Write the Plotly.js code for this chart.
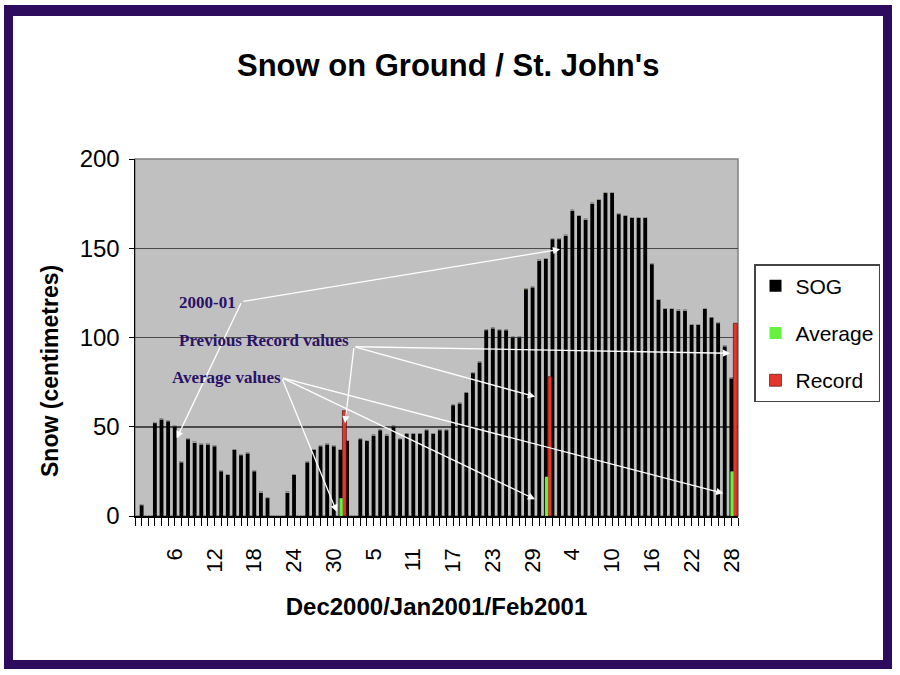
<!DOCTYPE html>
<html>
<head>
<meta charset="utf-8">
<script src="https://cdn.plot.ly/plotly-3.0.1.min.js"></script>
<style>
  html, body { margin: 0; padding: 0; background: #ffffff; }
  #wrap { position: relative; width: 900px; height: 675px; }
  #chart { position: absolute; left: 0; top: 0; width: 900px; height: 675px; }
  #frame { position: absolute; left: 4px; top: 5px; width: 888px; height: 664px;
           box-sizing: border-box; border: 9px solid #2d0c5e; border-top-width: 11px;
           pointer-events: none; }
</style>
</head>
<body>
<div id="wrap">
  <div id="chart"></div>
  <div id="frame"></div>
</div>
<script>
// ---- Data (cm of snow on ground) ----
const months = ['Dec', 'Jan', 'Feb'];
const monthYears = [2000, 2001, 2001];
const monthDays = [31, 31, 28];

const decSOG = [6, 0, 52, 54, 53, 50, 30, 43, 41, 40, 40, 39, 25, 23, 37, 34,
                35, 25, 13, 10, 0, 0, 13, 23, 0, 30, 37, 39, 40, 39, 37];
const janSOG = [42, 0, 43, 42, 45, 48, 45, 50, 43, 46, 46, 46, 48, 46, 48, 48,
                62, 63, 69, 80, 86, 104, 105, 104, 104, 100, 100, 127, 128, 143, 144];
const febSOG = [155, 155, 157, 171, 168, 166, 175, 177, 181, 181, 169, 168, 167, 167,
                167, 141, 121, 116, 116, 115, 115, 107, 107, 116, 111, 108, 95, 77];

const markedDates = ['Dec 31', 'Jan 31', 'Feb 28'];
const averageValues = [10, 22, 25];
const recordValues = [59, 78, 108];

const tickLabels = ['6', '12', '18', '24', '30', '5', '11', '17', '23', '29',
                    '4', '10', '16', '22', '28'];

// ---- Build categories (one per day) ----
const categories = [];
months.forEach((m, mi) => {
  for (let d = 1; d <= monthDays[mi]; d++) categories.push(m + ' ' + d);
});
const sog = decSOG.concat(janSOG, febSOG);
const xIdx = categories.map((c, i) => i + 1);
const markedIdx = markedDates.map(d => categories.indexOf(d) + 1);

const tickVals = [];
const tickText = [];
for (let k = 0; k <= categories.length + 1; k++) {
  tickVals.push(k);
  let t = '';
  if (k >= 1 && k <= categories.length) {
    const dayNum = categories[k - 1].split(' ')[1];
    if (k % 6 === 0 && tickLabels.indexOf(dayNum) >= 0) t = dayNum;
  }
  tickText.push(t);
}

const FONT = '"Liberation Sans", Arial, sans-serif';
const SERIF = '"Liberation Serif", "Times New Roman", serif';

const traces = [
  {
    type: 'bar', name: 'SOG', x: xIdx, y: sog, text: categories,
    marker: { color: '#000000', line: { width: 0 } },
    width: 0.58, offset: -0.29,
    legendrank: 1, legendgroup: 'a', hoverinfo: 'text+y'
  },
  {
    type: 'bar', name: 'Record', x: markedIdx, y: recordValues,
    marker: { color: '#e2372a', line: { width: 0.6, color: '#400000' } },
    width: 0.6, offset: 0.3,
    legendrank: 3, legendgroup: 'c'
  },
  {
    type: 'bar', name: 'Average', x: markedIdx, y: averageValues,
    marker: { color: '#66f040', line: { width: 0 } },
    width: 0.5, offset: -0.15,
    legendrank: 2, legendgroup: 'b'
  }
];

// pixel helpers for annotation placement (plot area 135..738 x, 159..516 y)
const px = v => (v - 135) / 6.626;
const py = v => (516 - v) / 1.785;

function arrow(tx, ty, hx, hy) {
  return {
    x: px(hx), y: py(hy), ax: px(tx), ay: py(ty),
    xref: 'x', yref: 'y', axref: 'x', ayref: 'y',
    text: '', showarrow: true, arrowhead: 2, arrowsize: 1.1, arrowwidth: 1.3,
    arrowcolor: '#ffffff', standoff: 0, startstandoff: 0
  };
}
function label(txt, lx, cy) {
  return {
    x: px(lx), y: py(cy), xref: 'x', yref: 'y', xanchor: 'left', yanchor: 'middle',
    text: '<b>' + txt + '</b>', showarrow: false,
    font: { family: SERIF, size: 17, color: '#2a1266' }
  };
}

const annotations = [
  arrow(241.7, 301.7, 176.7, 438.3),
  arrow(241.7, 301.7, 560, 249.3),
  arrow(354, 346.7, 345, 423.3),
  arrow(354, 346.7, 535, 396.7),
  arrow(354, 346.7, 730, 353.3),
  arrow(281.7, 377.7, 336.7, 511.7),
  arrow(281.7, 377.7, 535, 499.3),
  arrow(281.7, 377.7, 723.3, 493.3),
  label('2000-01', 177, 302),
  label('Previous Record values', 177, 340),
  label('Average values', 170, 377.5),
  {
    // y axis title, placed as in the reference (centred below plot middle)
    xref: 'paper', yref: 'paper', x: (50 - 135) / 603, y: (516 - 371) / 357,
    xanchor: 'center', yanchor: 'middle', textangle: -90, showarrow: false,
    text: '<b>Snow (centimetres)</b>',
    font: { family: FONT, size: 23, color: '#000000' }
  }
];

const layout = {
  width: 900, height: 675,
  margin: { l: 135, r: 162, t: 159, b: 159 },
  paper_bgcolor: '#ffffff', plot_bgcolor: '#c0c0c0',
  barmode: 'overlay',
  showlegend: true,
  font: { family: FONT, color: '#000000' },
  title: {
    text: '<b>Snow on Ground / St. John\'s</b>',
    font: { family: FONT, size: 31, color: '#000000' },
    xref: 'container', yref: 'container', x: 0.498, y: 1 - 65 / 675,
    xanchor: 'center', yanchor: 'middle'
  },
  xaxis: {
    type: 'linear', range: [0, 91], tickvals: tickVals, ticktext: tickText,
    tickangle: -90, ticks: 'outside', ticklen: 8, tickcolor: '#000000', tickwidth: 1,
    ticklabelstandoff: 14,
    tickfont: { family: FONT, size: 22, color: '#000000' },
    showline: true, linecolor: '#000000', linewidth: 1.5,
    showgrid: false, zeroline: false, fixedrange: true,
    title: { text: '<b>Dec2000/Jan2001/Feb2001</b>', font: { family: FONT, size: 24 }, standoff: 26 }
  },
  xaxis2: {
    type: 'linear', range: [0, 91], overlaying: 'x', anchor: 'y', side: 'bottom',
    tickvals: tickVals, showticklabels: false, ticks: 'inside', ticklen: 10,
    tickcolor: '#000000', tickwidth: 1, showline: false, showgrid: false,
    zeroline: false, layer: 'below traces'
  },
  yaxis: {
    range: [0, 200], tickvals: [0, 50, 100, 150, 200],
    ticks: 'outside', ticklen: 5, tickcolor: '#000000', ticklabelstandoff: 4,
    tickfont: { family: FONT, size: 24, color: '#000000' },
    showline: true, linecolor: '#000000', linewidth: 1.5,
    showgrid: true, gridcolor: '#4a4a4a', gridwidth: 1.5, zeroline: false
  },
  legend: {
    x: (754 - 135) / 603, y: (516 - 264) / 357, xanchor: 'left', yanchor: 'top',
    bgcolor: '#ffffff', bordercolor: '#444444', borderwidth: 1.5,
    font: { family: FONT, size: 21, color: '#000000' },
    traceorder: 'grouped', tracegroupgap: 17, itemwidth: 30
  },
  shapes: [{
    type: 'rect', xref: 'paper', yref: 'paper', x0: 0, x1: 1, y0: 0, y1: 1,
    line: { color: '#808080', width: 1.5 }, layer: 'below'
  }],
  annotations: annotations
};

Plotly.newPlot('chart', traces, layout, { displayModeBar: false, staticPlot: true });
</script>
</body>
</html>
